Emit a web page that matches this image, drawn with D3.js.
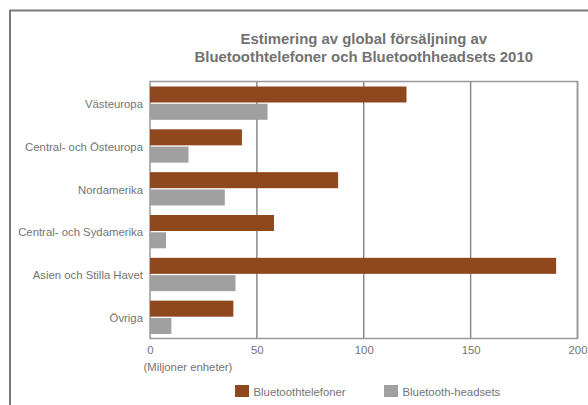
<!DOCTYPE html>
<html><head><meta charset="utf-8">
<script src="https://cdn.jsdelivr.net/npm/d3@7"></script>
<style>body{margin:0;background:#fff}svg{display:block}text{font-family:"Liberation Sans",Arial,sans-serif}</style>
</head><body>
<svg id="c" width="588" height="405"></svg>
<script>
const categories = ["Västeuropa","Central- och Östeuropa","Nordamerika","Central- och Sydamerika","Asien och Stilla Havet","Övriga"];
const phones = [120, 43, 88, 58, 190, 39];
const headsets = [55, 18, 35, 7.5, 40, 10];
const ticks = [0, 50, 100, 150, 200];
const seriesNames = ["Bluetoothtelefoner","Bluetooth-headsets"];
const colors = ["#8f471d","#a0a0a1"];

const svg = d3.select("#c");
const L = 150, R = 577.5, T = 81.5, B = 338.5;
const x = d3.scaleLinear().domain([0,200]).range([L,R]);
const y = d3.scaleBand().domain(categories).range([T,B]);
const txt = "#747474";
const fs = 11.35;

// outer frame
svg.append("path").attr("d","M10,405 L10,10.5 L588,10.5").attr("fill","none").attr("stroke","#7a7a7a").attr("stroke-width",2);

// title
const title = svg.append("text").attr("x",(L+R)/2).attr("text-anchor","middle")
  .attr("font-size",14.9).attr("font-weight","bold").attr("fill","#727272");
title.append("tspan").attr("x",(L+R)/2).attr("y",44).text("Estimering av global försäljning av");
title.append("tspan").attr("x",(L+R)/2).attr("y",62).text("Bluetoothtelefoner och Bluetoothheadsets 2010");

// gridlines
svg.append("g").selectAll("line").data(ticks.slice(1)).join("line")
  .attr("x1",d=>x(d)).attr("x2",d=>x(d)).attr("y1",T).attr("y2",B)
  .attr("stroke","#8a8a8a").attr("stroke-width",1.5);
// plot border
svg.append("rect").attr("x",L).attr("y",T).attr("width",R-L).attr("height",B-T)
  .attr("fill","none").attr("stroke","#999").attr("stroke-width",1.5);

const bw = y.bandwidth();
const bh = 16;
// bars
svg.append("g").selectAll("rect").data(phones).join("rect")
  .attr("x",x(0)).attr("y",(d,i)=>y(categories[i])+5).attr("height",bh)
  .attr("width",d=>x(d)-x(0)).attr("fill",colors[0]);
svg.append("g").selectAll("rect").data(headsets).join("rect")
  .attr("x",x(0)).attr("y",(d,i)=>y(categories[i])+5+bh+1.3).attr("height",bh)
  .attr("width",d=>x(d)-x(0)).attr("fill",colors[1]);

// category labels
svg.append("g").selectAll("text").data(categories).join("text")
  .attr("x",143).attr("y",d=>y(d)+bw/2+5).attr("text-anchor","end")
  .attr("font-size",fs).attr("fill",txt).text(d=>d);

// x axis
const ax = svg.append("g").attr("transform",`translate(0,${B})`)
  .call(d3.axisBottom(x).tickValues(ticks).tickSize(0).tickPadding(7));
ax.select(".domain").remove();
ax.selectAll("text").attr("font-size",fs).attr("fill",txt).attr("font-family","Liberation Sans, Arial, sans-serif");

svg.append("text").attr("x",143.5).attr("y",370.5).attr("font-size",fs).attr("fill",txt).text("(Miljoner enheter)");

// legend
const lx = [235, 384];
const lg = svg.append("g").selectAll("g").data(seriesNames).join("g")
  .attr("transform",(d,i)=>`translate(${lx[i]},385)`);
lg.append("rect").attr("width",14).attr("height",12).attr("fill",(d,i)=>colors[i]);
lg.append("text").attr("x",18.5).attr("y",10.5).attr("font-size",fs).attr("fill",txt).text(d=>d);
</script>
</body></html>
